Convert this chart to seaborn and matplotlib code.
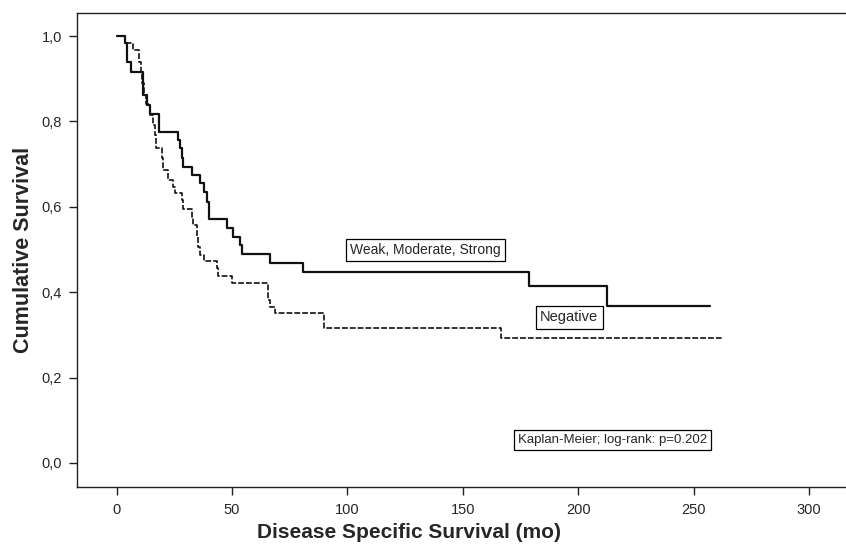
# Kaplan-Meier curves: disease specific survival by staining group

import seaborn as sns
import matplotlib.pyplot as plt
import pandas as pd

# --- data (months, cumulative survival) ---
weak_time = [0, 3.5, 4.5, 6.0, 11.2, 12.9, 14.4, 18.4, 26.6, 27.3, 28.3, 28.8,
             32.5, 36.0, 38.0, 39.0, 40.0, 47.7, 50.5, 53.2, 54.4, 66.4, 80.9,
             178.8, 212.7, 257.2]
weak_surv = [1.0, 0.983, 0.94, 0.916, 0.862, 0.838, 0.817, 0.776, 0.756, 0.737,
             0.714, 0.694, 0.674, 0.655, 0.635, 0.612, 0.571, 0.550, 0.530, 0.511,
             0.490, 0.469, 0.448, 0.414, 0.368, 0.368]

neg_time = [0, 3.5, 6.9, 9.6, 10.3, 11.0, 11.6, 12.8, 14.4, 15.8, 16.5, 17.0,
            19.4, 20.1, 22.1, 24.5, 25.3, 28.2, 28.9, 32.5, 33.2, 34.7, 35.4,
            36.2, 38.0, 43.3, 44.0, 49.8, 65.4, 66.6, 68.4, 90.0, 166.6, 262.7]
neg_surv = [1.0, 0.983, 0.967, 0.94, 0.916, 0.89, 0.862, 0.84, 0.815, 0.792,
            0.768, 0.737, 0.714, 0.686, 0.663, 0.647, 0.632, 0.616, 0.596, 0.577,
            0.557, 0.530, 0.507, 0.487, 0.473, 0.456, 0.439, 0.421, 0.382, 0.366,
            0.351, 0.315, 0.292, 0.292]

x_ticks = [0, 50, 100, 150, 200, 250, 300]
y_ticks = [0.0, 0.2, 0.4, 0.6, 0.8, 1.0]
y_tick_labels = ["0,0", "0,2", "0,4", "0,6", "0,8", "1,0"]

weak_df = pd.DataFrame({"time": weak_time, "survival": weak_surv})
neg_df = pd.DataFrame({"time": neg_time, "survival": neg_surv})

sns.set_style("ticks")
plt.rcParams["font.family"] = ["Liberation Sans", "DejaVu Sans"]

fig = plt.figure(figsize=(8.46, 5.46), dpi=100)
# right edge of the box runs off the figure, as in the original
ax = fig.add_axes([0.0914, 0.1075, 0.9086, 0.8692])

sns.lineplot(data=weak_df, x="time", y="survival", ax=ax, color="#111111",
             linewidth=1.6, drawstyle="steps-post", estimator=None, sort=False)
sns.lineplot(data=neg_df, x="time", y="survival", ax=ax, color="#111111",
             linewidth=1.2, drawstyle="steps-post", estimator=None, sort=False,
             linestyle=(0, (3.5, 1.2)))

ax.set_xlim(-17.1, 316.1)
ax.set_ylim(-0.057, 1.0546)
ax.set_xticks(x_ticks)
ax.set_xticklabels([str(v) for v in x_ticks])
ax.set_yticks(y_ticks)
ax.set_yticklabels(y_tick_labels)
ax.tick_params(direction="out", length=6, width=1, color="#222222",
               labelsize=10.5, pad=5)

for side in ["left", "bottom", "top"]:
    ax.spines[side].set_linewidth(1.0)
    ax.spines[side].set_color("#222222")
ax.spines["right"].set_visible(False)

ax.set_xlabel("Disease Specific Survival (mo)", fontsize=15, fontweight="bold")
ax.set_ylabel("Cumulative Survival", fontsize=15.5, fontweight="bold")
ax.xaxis.set_label_coords(0.4315, -0.075)
ax.yaxis.set_label_coords(-0.056, 0.5)

box = dict(boxstyle="square,pad=0.3", fc="white", ec="black", lw=0.9)
ax.text(133.9, 0.499, "Weak, Moderate, Strong", fontsize=10, ha="center",
        va="center", bbox=box)
ax.text(196.1, 0.341, "Negative", fontsize=10.5, ha="center", va="center", bbox=box)
ax.text(214.9, 0.054, "Kaplan-Meier; log-rank: p=0.202", fontsize=9.5,
        ha="center", va="center", bbox=box)

plt.savefig("out.png", dpi=100)
